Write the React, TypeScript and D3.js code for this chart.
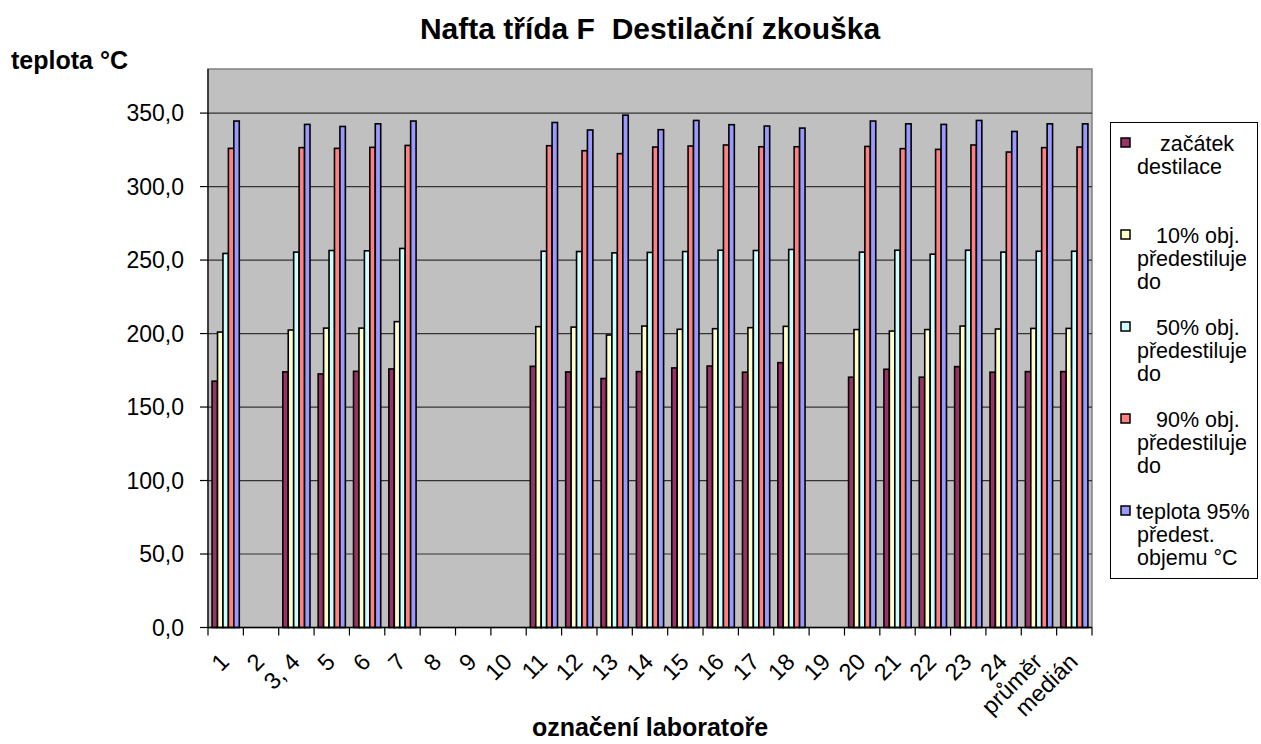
import React from 'react';
import { scaleBand, scaleLinear, range } from 'd3';

const labs = ['1', '2', '3, 4', '5', '6', '7', '8', '9', '10', '11', '12', '13', '14', '15', '16', '17', '18', '19', '20', '21', '22', '23', '24', 'průměr', 'medián'];

const zacatek = [167.6, null, 173.9, 172.5, 174.3, 175.9, null, null, null, 177.7, 173.9, 169.4, 174.1, 176.6, 177.9, 173.7, 180.2, null, 170.3, 175.7, 170.3, 177.5, 173.7, 174.1, 174.1];
const obj10 = [201.0, null, 202.4, 203.7, 203.7, 208.1, null, null, null, 204.7, 204.4, 199.0, 205.1, 202.9, 203.3, 204.0, 204.9, null, 202.7, 201.7, 202.7, 205.1, 203.1, 203.5, 203.5];
const obj50 = [254.5, null, 255.4, 256.5, 256.3, 257.9, null, null, null, 256.0, 255.8, 254.9, 255.2, 255.8, 256.7, 256.5, 257.2, null, 255.4, 256.7, 254.0, 256.7, 255.4, 256.0, 256.0];
const obj90 = [326.0, null, 326.5, 326.0, 326.7, 328.0, null, null, null, 327.8, 324.4, 322.4, 326.9, 327.6, 328.3, 327.1, 327.1, null, 327.3, 325.8, 325.3, 328.3, 323.5, 326.5, 326.9];
const teplota95 = [344.6, null, 342.3, 340.9, 342.7, 344.6, null, null, null, 343.6, 338.5, 348.6, 338.7, 345.0, 342.1, 341.2, 339.8, null, 344.6, 342.7, 342.3, 345.0, 337.5, 342.7, 342.7];

const seriesNames = [
  ['začátek', 'destilace'],
  ['10% obj.', 'předestiluje', 'do'],
  ['50% obj.', 'předestiluje', 'do'],
  ['90% obj.', 'předestiluje', 'do'],
  ['teplota 95%', 'předest.', 'objemu °C'],
];
const seriesColors = ['#993366', '#FFFFCC', '#CCFFFF', '#FF8080', '#9999FF'];
const seriesValues = [zacatek, obj10, obj50, obj90, teplota95];
const yTicks = [0, 50, 100, 150, 200, 250, 300, 350];

const font = '"Liberation Sans", Arial, sans-serif';

const W = 1261;
const H = 744;
const plot = { left: 208, right: 1092, top: 69, bottom: 627.5 };

const App = () => {
  const x = scaleBand<string>().domain(labs).range([plot.left, plot.right]).padding(0);
  const bw = x.bandwidth();
  const groupW = (bw * 5) / 6.5;
  const inner = scaleBand<number>()
    .domain(range(5))
    .range([(bw - groupW) / 2, (bw + groupW) / 2])
    .padding(0);
  const y = scaleLinear().domain([0, 380]).range([plot.bottom, plot.top]);

  return (
    <svg width={W} height={H} style={{ position: 'absolute', left: 0, top: 0, background: '#fff' }} fontFamily={font}>
      <rect x={0} y={0} width={W} height={H} fill="#fff" />
      <text x={650} y={39} textAnchor="middle" fontSize={30} fontWeight="bold">
        Nafta třída F{'\u00a0\u00a0'}Destilační zkouška
      </text>
      <text x={11} y={69} fontSize={25} fontWeight="bold">
        teplota °C
      </text>
      <text x={650} y={736} textAnchor="middle" fontSize={25} fontWeight="bold">
        označení laboratoře
      </text>

      <rect
        x={plot.left}
        y={plot.top}
        width={plot.right - plot.left}
        height={plot.bottom - plot.top}
        fill="#C0C0C0"
        stroke="#808080"
        strokeWidth={1.5}
      />
      {yTicks.map((t) => (
        <g key={t}>
          {t > 0 && (
            <line x1={plot.left} x2={plot.right} y1={y(t)} y2={y(t)} stroke="#333" strokeWidth={1.2} />
          )}
          <line x1={plot.left - 8} x2={plot.left} y1={y(t)} y2={y(t)} stroke="#000" strokeWidth={1.2} />
          <text x={184} y={y(t)} dy="0.36em" textAnchor="end" fontSize={23}>
            {t.toFixed(1).replace('.', ',')}
          </text>
        </g>
      ))}

      {labs.map((lab, i) => (
        <g key={lab} transform={`translate(${x(lab)},0)`}>
          {seriesValues.map((vals, s) => {
            const v = vals[i];
            if (v == null) return null;
            return (
              <rect
                key={s}
                x={inner(s)}
                y={y(v)}
                width={inner.bandwidth()}
                height={y(0) - y(v)}
                fill={seriesColors[s]}
                stroke="#000"
                strokeWidth={1.6}
              />
            );
          })}
        </g>
      ))}

      <line x1={plot.left} x2={plot.left} y1={plot.top} y2={plot.bottom} stroke="#000" strokeWidth={1.2} />
      <line x1={plot.left} x2={plot.right} y1={plot.bottom} y2={plot.bottom} stroke="#000" strokeWidth={1.5} />
      {range(labs.length + 1).map((i) => {
        const px = plot.left + i * bw;
        return <line key={i} x1={px} x2={px} y1={plot.bottom} y2={plot.bottom + 8} stroke="#000" strokeWidth={1.2} />;
      })}
      {labs.map((lab) => {
        const cx = (x(lab) as number) + bw / 2;
        return (
          <text
            key={lab}
            transform={`translate(${cx - 1},${plot.bottom + 30}) rotate(-45)`}
            textAnchor="end"
            dy="0.35em"
            fontSize={23.5}
          >
            {lab}
          </text>
        );
      })}

      <rect x={1110.5} y={122.5} width={147} height={456} fill="#fff" stroke="#000" strokeWidth={1} />
      {seriesNames.map((lines, s) => {
        const top = 143 + s * 92;
        const first = s === 0 ? 1160 : s < 4 ? 1156 : 1136;
        return (
          <g key={s}>
            <rect x={1121} y={top - 5} width={9} height={9} fill={seriesColors[s]} stroke="#000" strokeWidth={1.5} />
            {lines.map((ln, k) => (
              <text key={k} x={k === 0 ? first : 1137} y={top + k * 23} dy="0.35em" fontSize={21.5}>
                {ln}
              </text>
            ))}
          </g>
        );
      })}
    </svg>
  );
};

export default App;
